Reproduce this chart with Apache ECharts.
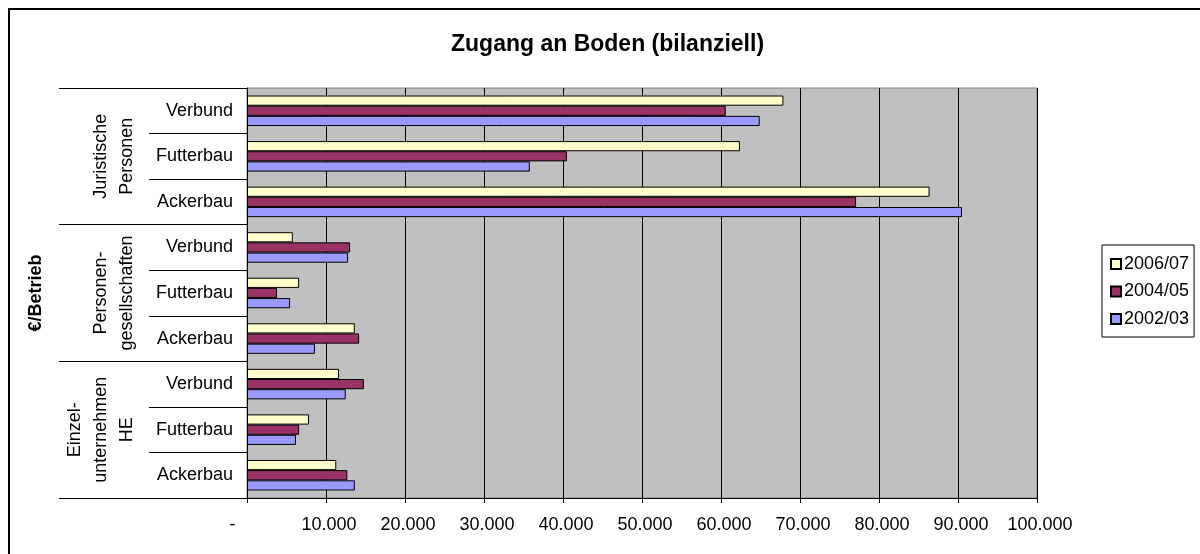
<!DOCTYPE html>
<html>
<head>
<meta charset="utf-8">
<script src="https://cdn.jsdelivr.net/npm/echarts@6/dist/echarts.min.js"></script>
<style>
  html, body { margin: 0; padding: 0; background: #fff; }
  #chart { width: 1200px; height: 554px; }
</style>
</head>
<body>
<div id="chart"></div>
<script>
// Kategorien von unten nach oben (Kategorieachse beginnt unten)
const categories = ['Ackerbau', 'Futterbau', 'Verbund', 'Ackerbau', 'Futterbau', 'Verbund', 'Ackerbau', 'Futterbau', 'Verbund']
const groups = ['Einzel-\nunternehmen\nHE', 'Personen-\ngesellschaften', 'Juristische\nPersonen']

const years = ['2006/07', '2004/05', '2002/03']
const v2006 = [11300, 7850, 11650, 13650, 6600, 5800, 86400, 62400, 67900]
const v2004 = [12700, 6600, 14800, 14200, 3800, 13050, 77100, 40500, 60600]
const v2002 = [13650, 6200, 12500, 8600, 5450, 12800, 90500, 35800, 64900]

const font = 'Liberation Sans, Arial, sans-serif'
const chart = echarts.init(document.getElementById('chart'))

// Excel-Format: 0 als "-", Tausenderpunkt
const fmt = (v) => v === 0 ? '-       ' : v.toLocaleString('de-DE')

const option = {
  backgroundColor: '#fff',
  animation: false,
  textStyle: { fontFamily: font },
  title: {
    text: 'Zugang an Boden (bilanziell)',
    left: 446,
    top: 28,
    textStyle: { fontFamily: font, fontSize: 23, fontWeight: 'bold', color: '#000' }
  },
  legend: {
    orient: 'vertical',
    left: 1102,
    top: 245,
    data: years,
    itemWidth: 10,
    itemHeight: 10,
    itemGap: 9.5,
    padding: [10, 5, 9, 8],
    borderColor: '#000',
    borderWidth: 1,
    icon: 'rect',
    textStyle: { fontFamily: font, fontSize: 18, color: '#000', padding: [0, 0, 0, -2] }
  },
  grid: {
    left: 247,
    right: 163,
    top: 88,
    bottom: 56,
    show: true,
    backgroundColor: '#C0C0C0',
    borderColor: '#808080',
    borderWidth: 1
  },
  xAxis: {
    type: 'value',
    min: 0,
    max: 100000,
    interval: 10000,
    axisLine: { show: true, lineStyle: { color: '#000' } },
    axisTick: { show: true, length: 5, lineStyle: { color: '#000' } },
    axisLabel: { formatter: fmt, fontFamily: font, fontSize: 18, color: '#000', margin: 18, padding: [0, 0, 0, 6] },
    splitLine: { show: true, lineStyle: { color: '#000', width: 1 } }
  },
  yAxis: [
    {
      type: 'category',
      data: categories,
      position: 'left',
      axisLine: { show: true, lineStyle: { color: '#000' } },
      axisTick: { show: true, length: 98, lineStyle: { color: '#000' } },
      axisLabel: { interval: 0, fontFamily: font, fontSize: 18, color: '#000', margin: 14 }
    },
    {
      type: 'category',
      data: groups,
      position: 'left',
      name: '€/Betrieb',
      nameLocation: 'middle',
      nameRotate: 90,
      nameGap: 202,
      nameTextStyle: { fontFamily: font, fontSize: 18, fontWeight: 'bold', color: '#000' },
      axisLine: { show: false },
      axisTick: { show: true, length: 188, lineStyle: { color: '#000' } },
      axisLabel: {
        interval: 0,
        rotate: 90,
        margin: 107,
        fontFamily: font,
        fontSize: 18,
        lineHeight: 26,
        color: '#000'
      }
    }
  ],
  series: [
    {
      name: '2006/07', type: 'bar', data: v2006, yAxisIndex: 0,
      barGap: '0%', barCategoryGap: '33%',
      itemStyle: { color: '#FFFFCC', borderColor: '#000', borderWidth: 1 }
    },
    {
      name: '2004/05', type: 'bar', data: v2004, yAxisIndex: 0,
      barGap: '0%', barCategoryGap: '33%',
      itemStyle: { color: '#993366', borderColor: '#000', borderWidth: 1 }
    },
    {
      name: '2002/03', type: 'bar', data: v2002, yAxisIndex: 0,
      barGap: '0%', barCategoryGap: '33%',
      itemStyle: { color: '#9999FF', borderColor: '#000', borderWidth: 1 }
    }
  ],
  graphic: [
    {
      type: 'rect',
      shape: { x: 9, y: 9, width: 1400, height: 800 },
      style: { fill: 'none', stroke: '#000', lineWidth: 2 },
      silent: true
    }
  ]
}

chart.setOption(option)
</script>
</body>
</html>
